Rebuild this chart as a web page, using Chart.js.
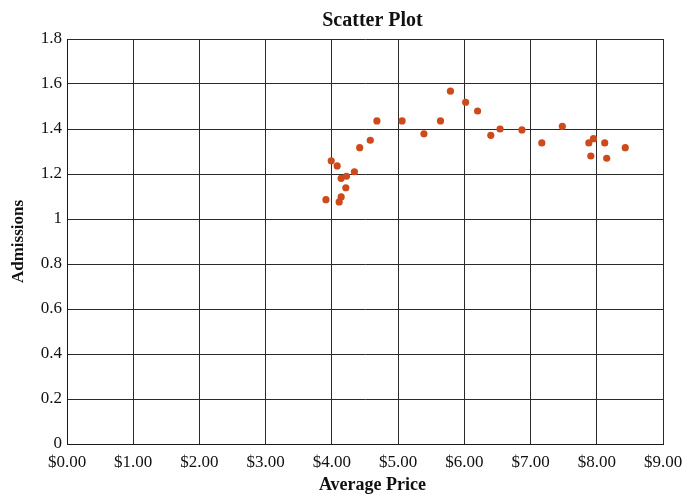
<!DOCTYPE html>
<html>
<head>
<meta charset="utf-8">
<script src="https://cdn.jsdelivr.net/npm/chart.js@4/dist/chart.umd.min.js"></script>
<style>
  html, body { margin: 0; padding: 0; background: #ffffff; }
  #wrap { width: 686px; height: 494px; position: relative; }
</style>
</head>
<body>
<div id="wrap"><canvas id="chart" width="686" height="494"></canvas></div>
<script>
// Average ticket price (dollars) and admissions (billions)
const averagePrice = [
  3.91, 3.99, 4.08, 4.14, 4.11, 4.14, 4.21, 4.22, 4.34, 4.42,
  4.58, 4.68, 5.06, 5.39, 5.64, 5.79, 6.02, 6.20, 6.40, 6.54,
  6.87, 7.17, 7.48, 7.88, 7.95, 7.91, 8.12, 8.15, 8.43
];
const admissions = [
  1.086, 1.259, 1.236, 1.181, 1.076, 1.098, 1.139, 1.190, 1.210, 1.317,
  1.350, 1.436, 1.436, 1.379, 1.436, 1.568, 1.519, 1.480, 1.372, 1.400,
  1.396, 1.338, 1.412, 1.338, 1.357, 1.280, 1.338, 1.270, 1.317
];
const xTicks = [0, 1, 2, 3, 4, 5, 6, 7, 8, 9];
const yTicks = [0, 0.2, 0.4, 0.6, 0.8, 1, 1.2, 1.4, 1.6, 1.8];

const chartTitle = 'Scatter Plot';
const xTitle = 'Average Price';

const points = averagePrice.map((p, i) => ({ x: p, y: admissions[i] }));

const serif = "'Liberation Serif', 'Times New Roman', serif";

// Chart title and x-axis title, centred a little right of the plot centre
const headings = {
  id: 'headings',
  afterDraw(chart) {
    const ctx = chart.ctx;
    ctx.save();
    ctx.fillStyle = '#111';
    ctx.textAlign = 'center';
    ctx.textBaseline = 'alphabetic';
    ctx.font = 'bold 20px ' + serif;
    ctx.fillText(chartTitle, 372.5, 25.5);
    ctx.font = 'bold 18px ' + serif;
    ctx.fillText(xTitle, 372.5, 490);
    ctx.restore();
  }
};

new Chart(document.getElementById('chart'), {
  type: 'scatter',
  data: {
    datasets: [{
      data: points,
      backgroundColor: '#cf4a1b',
      borderWidth: 0,
      pointRadius: 3.6,
      pointHoverRadius: 3.6
    }]
  },
  options: {
    responsive: false,
    animation: false,
    devicePixelRatio: 1,
    layout: { padding: { top: 39, right: 23, bottom: 0, left: 0 } },
    plugins: {
      legend: { display: false },
      tooltip: { enabled: false },
      title: { display: false }
    },
    scales: {
      x: {
        type: 'linear',
        min: 0,
        max: 9,
        afterFit: (s) => { s.height = 50; s.paddingRight = 0; s.paddingLeft = 0; },
        afterBuildTicks: (s) => { s.ticks = xTicks.map(v => ({ value: v })); },
        ticks: {
          color: '#111',
          padding: 8,
          font: { family: serif, size: 17 },
          callback: (v) => '$' + Number(v).toFixed(2)
        },
        grid: { color: '#2a2a2a', lineWidth: 1, drawTicks: false },
        border: { color: '#1a1a1a', width: 1 }
      },
      y: {
        type: 'linear',
        min: 0,
        max: 1.8,
        afterFit: (s) => { s.width = 67; },
        afterBuildTicks: (s) => { s.ticks = yTicks.map(v => ({ value: v })); },
        ticks: {
          color: '#111',
          padding: 5,
          font: { family: serif, size: 17 },
          callback: (v) => String(Number(Number(v).toFixed(1)))
        },
        grid: { color: '#2a2a2a', lineWidth: 1, drawTicks: false },
        border: { color: '#1a1a1a', width: 1 },
        title: {
          display: true,
          text: 'Admissions',
          color: '#111',
          font: { family: serif, size: 17, weight: 'bold', lineHeight: 1.2 },
          padding: { top: 8, bottom: 0 }
        }
      }
    }
  },
  plugins: [headings]
});
</script>
</body>
</html>
